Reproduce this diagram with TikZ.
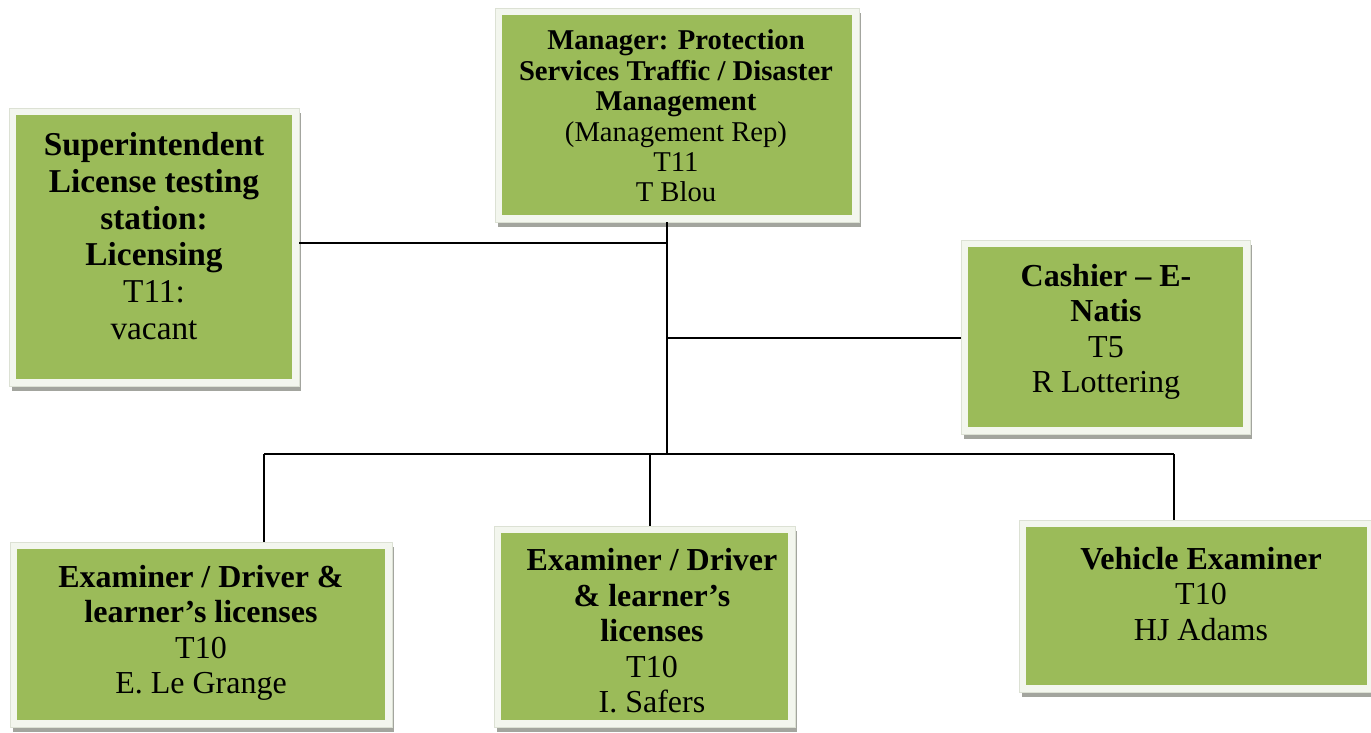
\documentclass[tikz,border=0pt]{standalone}
\usepackage{fontspec}
\setmainfont{Liberation Serif}
\usetikzlibrary{fit,calc}
\definecolor{boxgreen}{HTML}{9BBB59}
\definecolor{framec}{HTML}{F3F6EE}
\definecolor{framedraw}{HTML}{DCE1D4}
\definecolor{shadowc}{HTML}{A3A59E}
\tikzset{
 frame/.style={fill=framec, draw=framedraw, line width=0.4pt, inner sep=0pt},
 conn/.style={line width=1.4pt, black},
 lbl/.style={align=center, inner sep=0pt, text=black},
 bigtxt/.style={font=\fontsize{25}{27.6}\selectfont},
 midtxt/.style={font=\fontsize{24}{26.6}\selectfont},
 smalltxt/.style={font=\fontsize{21.5}{22.8}\selectfont},
}
\newcommand\orgbox[5]{%
  \fill[shadowc] (#2+3,#3+5) rectangle (#4+2,#5+5);
  \node[frame, fit={(#2,#3) (#4,#5)}] (#1) {};
  \fill[boxgreen] (#2+7,#3+7) rectangle (#4-7,#5-7);
}
\begin{document}
\begin{tikzpicture}[x=0.75pt,y=-0.75pt]
\useasboundingbox[fill=white] (0,0) rectangle (1371,732);

% boxes
\orgbox{man}{495}{8}{859}{222}
\orgbox{sup}{9}{108}{299}{386}
\orgbox{cash}{961}{240}{1250}{434}
\orgbox{exa}{10}{542}{392}{727}
\orgbox{exb}{494}{526}{795}{727}
\orgbox{veh}{1019}{520}{1374}{692}

% texts
\node[lbl, smalltxt] (manT) at (676,116) {\textbf{Manager: Protection}\\\textbf{Services Traffic / Disaster}\\\textbf{Management}\\(Management Rep)\\T11\\T Blou};
\node[lbl, bigtxt] (supT) at (154,236) {\textbf{Superintendent}\\\textbf{License testing}\\\textbf{station:}\\\textbf{Licensing}\\T11:\\vacant};
\node[lbl, midtxt] (cashT) at (1106,332) {\textbf{Cashier – E-}\\\textbf{Natis}\\T5\\R Lottering};
\node[lbl, midtxt] (exaT) at (201,633) {\textbf{Examiner / Driver \&}\\\textbf{learner’s licenses}\\T10\\E. Le Grange};
\node[lbl, midtxt] (exbT) at (652,631) {\textbf{Examiner / Driver}\\\textbf{\& learner’s}\\\textbf{licenses}\\T10\\I. Safers};
\node[lbl, midtxt] (vehT) at (1201,594) {\textbf{Vehicle Examiner}\\T10\\HJ Adams};

% connector junctions
\coordinate (j1) at (667,243);
\coordinate (j2) at (667,338);
\coordinate (j3) at (667,454);
\coordinate (bl) at (264,454);
\coordinate (bm) at (650,454);
\coordinate (br) at (1174,454);

\draw[conn] (j3 |- man.south) -- (j3);
\draw[conn] (j1 -| sup.east) -- (j1);
\draw[conn] (j2) -- (j2 -| cash.west);
\draw[conn] (bl) -- (br);
\draw[conn] (bl) -- (bl |- exa.north);
\draw[conn] (bm) -- (bm |- exb.north);
\draw[conn] (br) -- (br |- veh.north);
\end{tikzpicture}
\end{document}
